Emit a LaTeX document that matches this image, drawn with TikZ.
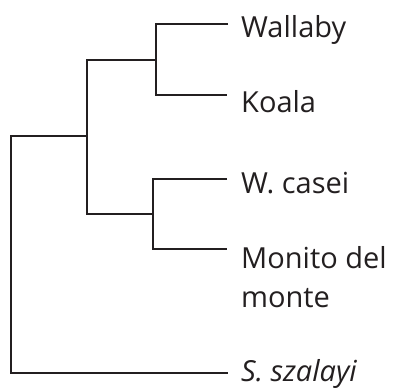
\documentclass[tikz,border=0pt]{standalone}
\usepackage{fontspec}
\setmainfont{Open Sans}
\definecolor{branch}{HTML}{231F20}
\begin{document}
\begin{tikzpicture}[x=1pt,y=-1pt,
  edge/.style={draw=branch,line width=2.6pt,line cap=butt,line join=miter},
  taxon/.style={anchor=base west,inner sep=0pt,font=\fontsize{29}{39}\selectfont,text=branch,align=left}]
\useasboundingbox (0,0) rectangle (393,389);
% internal nodes
\coordinate (root) at (11,136);
\coordinate (n1) at (87,60);
\coordinate (n2) at (87,214);
\coordinate (a) at (156,60);
\coordinate (b) at (153,214);
% leaf tips
\coordinate (t1) at (228,24);
\coordinate (t2) at (227,95);
\coordinate (t3) at (227,179);
\coordinate (t4) at (227,249);
\coordinate (t5) at (228,373);
% branches
\draw[edge] (t1) -| (a) |- (t2);
\draw[edge] (t3) -| (b) |- (t4);
\draw[edge] (a) -- (n1) -- (n2) -- (b);
\draw[edge] (n1 |- root) -- (root) |- (t5);
% labels
\node[taxon] (l1) at (241,37) {Wallaby};
\node[taxon] (l2) at (241,112) {Koala};
\node[taxon] (l3) at (241,193) {W. casei};
\node[taxon] (l4) at (241,307) {Monito del\\monte};
\node[taxon] (l5) at (241,381) {\itshape S. szalayi};
\end{tikzpicture}
\end{document}
